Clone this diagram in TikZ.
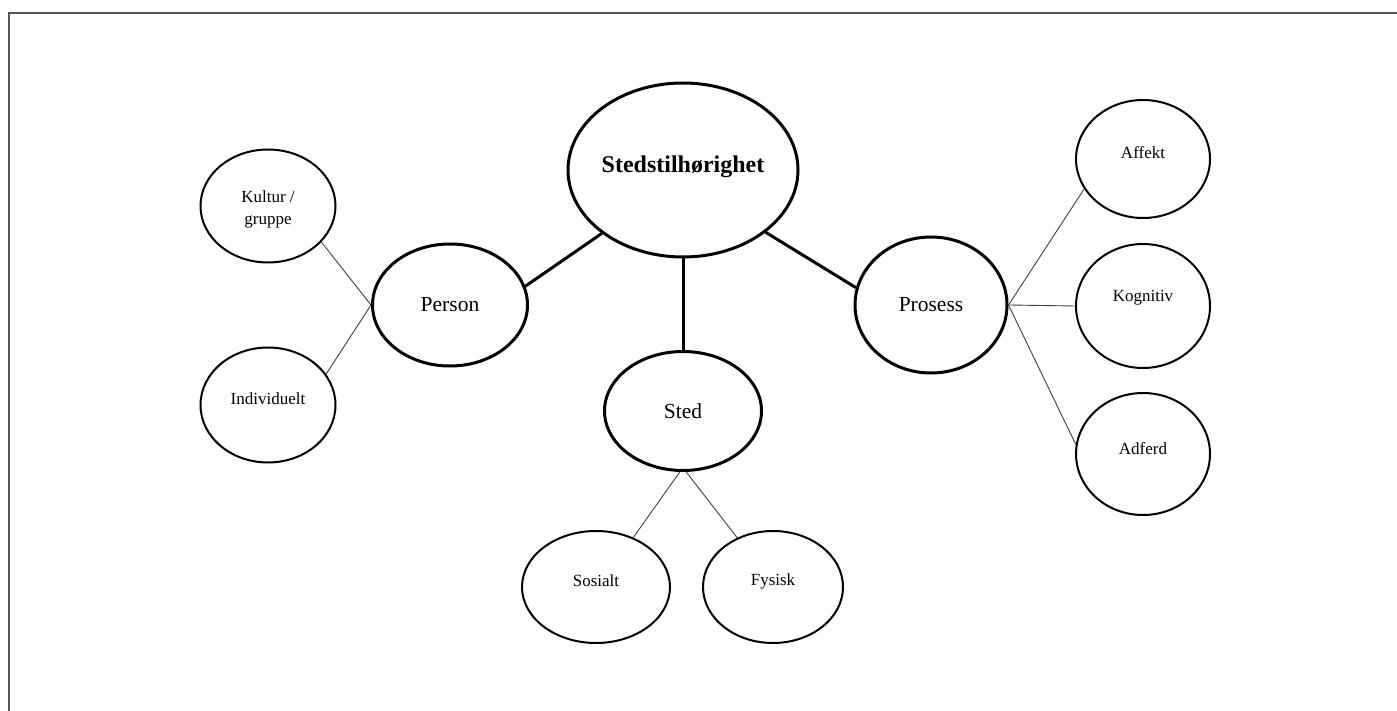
\documentclass[tikz,border=0pt]{standalone}
\usepackage{fontspec}
\setmainfont{Liberation Serif}
\usetikzlibrary{shapes.geometric}
\definecolor{framegray}{HTML}{555555}
\tikzset{
  bigell/.style={draw, ellipse, line width=3pt, inner sep=0pt},
  smallell/.style={draw, ellipse, line width=2pt, inner sep=0pt},
  thick link/.style={line width=3pt},
  thin link/.style={line width=0.9pt, draw=black!75},
  toptxt/.style={font=\fontsize{24}{26}\selectfont\bfseries},
  midtxt/.style={font=\fontsize{21.5}{24}\selectfont},
  smalltxt/.style={font=\fontsize{17}{22}\selectfont, align=center},
}
\begin{document}
\begin{tikzpicture}[x=1pt,y=-1pt]
\useasboundingbox (0,0) rectangle (1397,711);
\fill[white] (0,0) rectangle (1397,711);
\coordinate (fa) at (9,711);
\coordinate (fb) at (9,13);
\coordinate (fc) at (1397,13);
\draw[framegray, line width=2pt] (fa) -- (fb) -- (fc);

% main
\node[bigell, minimum width=230pt, minimum height=174pt] (main) at (683,170) {};
\node[toptxt] (maint) at ([yshift=3pt]main.center) {Stedstilhørighet};

% second level
\node[bigell, minimum width=155pt, minimum height=122pt] (person) at (450,305) {};
\node[midtxt] (persont) at (person.center) {Person};
\node[bigell, minimum width=157pt, minimum height=119pt] (sted) at (683,411) {};
\node[midtxt] (stedt) at (sted.center) {Sted};
\node[bigell, minimum width=152pt, minimum height=136pt] (prosess) at (931,305) {};
\node[midtxt] (prosesst) at (prosess.center) {Prosess};

% third level
\node[smallell, minimum width=135pt, minimum height=113pt] (kultur) at (268,206) {};
\node[smalltxt] (kulturt) at ([yshift=-3pt]kultur.center) {Kultur /\\gruppe};
\node[smallell, minimum width=135pt, minimum height=115pt] (indiv) at (268,405) {};
\node[smalltxt] (indivt) at ([yshift=6pt]indiv.center) {Individuelt};

\node[smallell, minimum width=134pt, minimum height=118pt] (affekt) at (1143,159) {};
\node[smalltxt] (affektt) at ([yshift=6pt]affekt.center) {Affekt};
\node[smallell, minimum width=134pt, minimum height=124pt] (kogn) at (1143,306) {};
\node[smalltxt] (kognt) at ([yshift=8pt]kogn.center) {Kognitiv};
\node[smallell, minimum width=134pt, minimum height=122pt] (adferd) at (1143,454) {};
\node[smalltxt] (adferdt) at ([yshift=5pt]adferd.center) {Adferd};

\node[smallell, minimum width=148pt, minimum height=112pt] (sosialt) at (596,587) {};
\node[smalltxt] (sosialtt) at ([yshift=6pt]sosialt.center) {Sosialt};
\node[smallell, minimum width=140pt, minimum height=112pt] (fysisk) at (773,587) {};
\node[smalltxt] (fysiskt) at ([yshift=6pt]fysisk.center) {Fysisk};

% thick links
\draw[thick link] (main.-142) -- (person.14);
\draw[thick link] (main.south) -- (sted.north);
\draw[thick link] (main.-37) -- (prosess.167);

% thin links
\draw[thin link] (kultur.-34) -- (person.west);
\draw[thin link] (indiv.28) -- (person.west);
\draw[thin link] (prosess.east) -- (affekt.-153);
\draw[thin link] (prosess.east) -- (kogn.west);
\draw[thin link] (prosess.east) -- (adferd.172);
\draw[thin link] (sted.-93) -- (sosialt.53);
\draw[thin link] (sted.-87) -- (fysisk.126);
\end{tikzpicture}
\end{document}
